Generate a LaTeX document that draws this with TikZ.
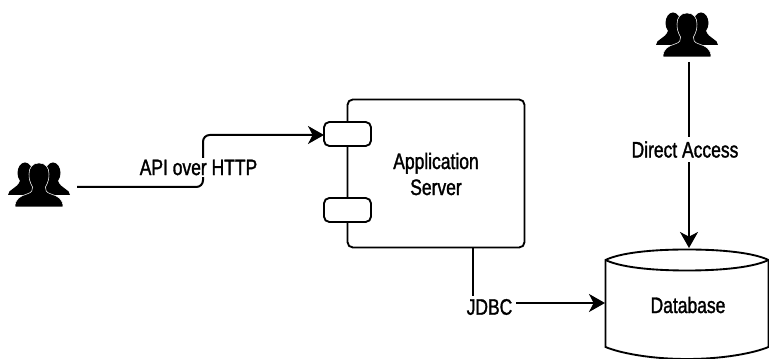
\documentclass[tikz,border=0pt]{standalone}
\usepackage{fontspec}
\setmainfont[FakeStretch=0.78,FakeBold=1.4]{Liberation Sans}
\usetikzlibrary{arrows.meta}
\tikzset{
  x=0.75pt,y=-0.75pt,
  shapeline/.style={draw=black,line width=1.4pt,fill=white},
  boxnode/.style={shapeline,rounded corners=4pt,inner sep=0pt,outer sep=0pt},
  conn/.style={draw=black,line width=1.5pt},
  arr/.style={-{Stealth[length=12pt,width=13.5pt,inset=3.5pt]}},
  lbl/.style={fill=white,inner sep=0pt,outer sep=0pt,font=\fontsize{16.8}{18}\selectfont,text=black},
  ghost/.style={inner sep=0pt,outer sep=0pt},
  people/.pic={
    \fill[black] (17,10) ellipse [x radius=7.5,y radius=10.5];
    \fill[black] (45,10) ellipse [x radius=7.5,y radius=10.5];
    \fill[black] (0,32) .. controls (0,26) and (9,26) .. (12,18) -- (24,18) -- (24,32) -- cycle;
    \fill[black] (62,32) .. controls (62,26) and (53,26) .. (50,18) -- (38,18) -- (38,32) -- cycle;
    \fill[black,draw=white,line width=0.4pt]
      (7,44) .. controls (7,36) and (12,33) .. (19,31)
      .. controls (24,29.5) and (25,27) .. (24.5,24)
      .. controls (21.5,19) and (21,15) .. (21,11)
      .. controls (21,4) and (25,0) .. (31,0)
      .. controls (37,0) and (41,4) .. (41,11)
      .. controls (41,15) and (40.5,19) .. (37.5,24)
      .. controls (37,27) and (38,29.5) .. (43,31)
      .. controls (50,33) and (55,36) .. (55,44) -- cycle;
  }
}
\begin{document}
\begin{tikzpicture}
\useasboundingbox (0,0) rectangle (769,359);
\clip (0,0) rectangle (769,359);
% invisible anchors for the user icons and the database
\node[ghost,minimum width=57.75pt,minimum height=33pt] (userleft) at (38.5,187) {};
\node[ghost,minimum width=46.5pt,minimum height=36.75pt] (usertop) at (689,37.5) {};
\node[ghost,minimum width=123pt,minimum height=82.5pt] (db) at (687,303) {};
% application server
\node[boxnode,minimum width=132.75pt,minimum height=111pt] (server) at (436,173.5) {};
\node[boxnode,minimum width=35.25pt,minimum height=18pt] (portone) at (347.5,134) {};
\node[boxnode,minimum width=35.25pt,minimum height=18pt] (porttwo) at (347.5,210) {};
\node[lbl,align=center,font=\fontsize{16.8}{19.5}\selectfont] (servertext) at (436,174) {Application\\Server};
\pic at (8,163) {people};
\pic at (656,13) {people};
% database cylinder
\draw[shapeline]
  (605.5,260) -- (605.5,347)
  .. controls (620,353) and (650,359) .. (687,359)
  .. controls (724,359) and (754,353) .. (768.5,347) -- (768.5,260)
  .. controls (754,253) and (724,249.5) .. (687,249.5)
  .. controls (650,249.5) and (620,253) .. (605.5,260) -- cycle;
\draw[shapeline,fill=none]
  (605.5,260) .. controls (620,267) and (650,270.5) .. (687,270.5)
  .. controls (724,270.5) and (754,267) .. (768.5,260);
\node[lbl] (dbtext) at (688,305) {Database};
% connectors
\draw[conn,arr,rounded corners=5pt] (userleft.east) -- (203,187) -- (203,135) -- (portone.west |- 0,135);
\draw[conn,arr] (usertop.south -| 689,0) -- (689,248);
\draw[conn] (473,248) -- (473,303);
\draw[conn,arr] (473,303) -- (db.west |- 0,303);
% connector labels
\node[lbl,minimum height=14.5pt] (apilabel) at (198.5,167.5) {API over HTTP};
\node[lbl,minimum height=18.5pt,minimum width=88pt] (directlabel) at (685,149.5) {Direct Access};
\node[lbl,minimum height=16pt,minimum width=40pt] (jdbclabel) at (489.5,307) {JDBC};
\end{tikzpicture}
\end{document}
